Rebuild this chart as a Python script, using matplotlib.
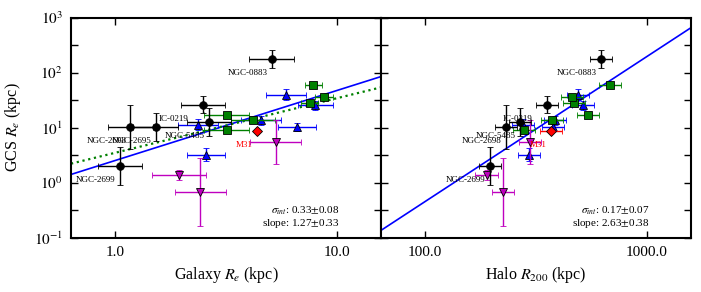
import numpy as np
import matplotlib
matplotlib.use("Agg")
import matplotlib.pyplot as plt
from matplotlib.ticker import NullLocator, FixedLocator, FixedFormatter

plt.rcParams['font.family'] = ['Liberation Serif', 'DejaVu Serif']
plt.rcParams['mathtext.fontset'] = 'stix'

# ---------------- data ----------------
bk_names = ["NGC-0883", "NGC-2698", "NGC-2695", "IC-0219", "NGC-5485", "NGC-2699"]
bk_re = [5.08, 1.17, 1.52, 2.49, 2.65, 1.05]
bk_gcs = [176.0, 10.3, 10.3, 26.2, 12.6, 2.0]
bk_gcs_err_dex = [0.17, 0.40, 0.25, 0.15, 0.25, 0.35]
bk_re_err_dex = [0.10, 0.10, 0.10, 0.10, 0.10, 0.10]
bk_r200 = [621.0, 231.0, np.nan, 354.0, 268.0, 196.0]

gr_re = [3.18, 3.18, 4.19, 7.85, 7.54, 8.74]
gr_gcs = [16.7, 8.9, 14.0, 58.8, 28.5, 36.0]
gr_re_err_dex = [0.10, 0.10, 0.10, 0.04, 0.04, 0.04]
gr_r200 = [545.0, 279.0, 373.0, 684.0, 470.0, 459.0]

bl_re = [2.37, 4.57, 5.92, 8.02, 6.63, 2.56]
bl_gcs = [11.3, 13.6, 39.8, 25.4, 10.3, 3.23]
bl_gcs_err_dex = [0.10, 0.08, 0.10, 0.08, 0.07, 0.12]
bl_re_err_dex = [0.09, 0.09, 0.09, 0.08, 0.085, 0.085]
bl_r200 = [276.0, 385.0, 489.0, 514.0, 378.0, 294.0]

mg_re = [5.3, 1.94, 2.42]
mg_gcs = [5.56, 1.40, 0.675]
mg_gcs_err_dex = [0.40, 0.09, 0.62]
mg_re_err_dex = [0.115, 0.12, 0.115]
mg_r200 = [297.0, 189.0, 224.0]

m31_re = [4.38]
m31_gcs = [8.67]
m31_r200 = [371.0]

r200_err_dex = 0.05

# fits: (log intercept at x=1 or x=100, slope)
fit_re = [0.403, 1.27]
fit_re_dotted = [0.543, 0.99]
fit_r200 = [-0.341, 2.63]

stats_re = ["0.33$\\pm$0.08", "1.27$\\pm$0.33"]
stats_r200 = ["0.17$\\pm$0.07", "2.63$\\pm$0.38"]


def dexerr(v, d):
    v = np.asarray(v, dtype=float)
    d = np.broadcast_to(np.asarray(d, dtype=float), v.shape)
    return np.vstack([v * (1 - 10 ** -d), v * (10 ** d - 1)])


fig = plt.figure(figsize=(7.01, 2.92), dpi=100)
axL = fig.add_axes([71 / 701, 1 - 237.7 / 292, 310 / 701, 220.2 / 292])
axR = fig.add_axes([381 / 701, 1 - 237.7 / 292, 310 / 701, 220.2 / 292])

ekw = dict(capsize=2.5, elinewidth=1.0, capthick=1.0, markeredgecolor='k',
           markeredgewidth=0.6, linestyle='none')


def draw(ax, xb, xg, xbl, xm, xr, xdex_b, xdex_g, xdex_bl, xdex_m, red_xerr):
    ax.errorbar(xbl, bl_gcs, xerr=dexerr(xbl, xdex_bl), yerr=dexerr(bl_gcs, bl_gcs_err_dex),
                fmt='^', color='b', ecolor='b', ms=5.5, zorder=3, **ekw)
    ax.errorbar(xg, gr_gcs, xerr=dexerr(xg, xdex_g),
                fmt='s', color='g', ecolor='g', ms=5.5, zorder=4, **ekw)
    ax.errorbar(xm, mg_gcs, xerr=dexerr(xm, xdex_m), yerr=dexerr(mg_gcs, mg_gcs_err_dex),
                fmt='v', color='m', ecolor='m', ms=5.5, zorder=5, **ekw)
    if red_xerr:
        ax.errorbar(xr, m31_gcs, xerr=dexerr(xr, r200_err_dex),
                    fmt='D', color='r', ecolor='r', ms=5.5, zorder=6, **ekw)
    else:
        ax.plot(xr, m31_gcs, 'D', color='r', ms=5.5, mec='k', mew=0.6, zorder=6)
    ax.errorbar(xb, bk_gcs, xerr=dexerr(xb, xdex_b), yerr=dexerr(bk_gcs, bk_gcs_err_dex),
                fmt='o', color='k', ecolor='k', ms=5.5, zorder=7, **ekw)
    for name, x, y in zip(bk_names, xb, bk_gcs):
        if np.isfinite(x):
            ax.annotate(name, (x, y), xytext=(-44, -14), textcoords='offset pixels',
                        ha='left', va='center', fontsize=6.5, zorder=8)
    ax.annotate("M31", (xr[0], m31_gcs[0]), xytext=(-22, -14), textcoords='offset pixels',
                ha='left', va='center', fontsize=6.5, color='r', zorder=8)


draw(axL, bk_re, gr_re, bl_re, mg_re, m31_re, bk_re_err_dex, gr_re_err_dex,
     bl_re_err_dex, mg_re_err_dex, False)
draw(axR, bk_r200, gr_r200, bl_r200, mg_r200, m31_r200, r200_err_dex, r200_err_dex,
     r200_err_dex, r200_err_dex, True)

# fit lines
xl = np.logspace(-0.2, 1.2, 50)
axL.plot(xl, 10 ** (fit_re[0] + fit_re[1] * np.log10(xl)), 'b-', lw=1.2, zorder=2)
axL.plot(xl, 10 ** (fit_re_dotted[0] + fit_re_dotted[1] * np.log10(xl)), 'g:', lw=1.6, zorder=2)
xr_line = np.logspace(1.8, 3.2, 50)
axR.plot(xr_line, 10 ** (fit_r200[0] + fit_r200[1] * (np.log10(xr_line) - 2)), 'b-', lw=1.2, zorder=2)

yt = 10 ** np.arange(-1, 3.01, 0.5)
ylab = ["$10^{%d}$" % round(np.log10(v)) if abs(np.log10(v) - round(np.log10(v))) < 1e-6 else ""
        for v in yt]

for ax, xlim, xt, xtl in [(axL, (10 ** -0.2, 10 ** 1.2), [1.0, 10.0], ["1.0", "10.0"]),
                          (axR, (10 ** 1.8, 10 ** 3.2), [100.0, 1000.0], ["100.0", "1000.0"])]:
    ax.set_xscale('log')
    ax.set_yscale('log')
    ax.set_xlim(*xlim)
    ax.set_ylim(0.1, 1000)
    ax.xaxis.set_major_locator(FixedLocator(xt))
    ax.xaxis.set_major_formatter(FixedFormatter(xtl))
    ax.xaxis.set_minor_locator(NullLocator())
    ax.yaxis.set_major_locator(FixedLocator(yt))
    ax.yaxis.set_minor_locator(NullLocator())
    ax.tick_params(which='major', direction='in', top=True, right=True, length=5,
                   width=1.0, labelsize=11, pad=6)
    for s in ax.spines.values():
        s.set_linewidth(1.5)

axL.yaxis.set_major_formatter(FixedFormatter(ylab))
axR.yaxis.set_major_formatter(FixedFormatter([""] * len(yt)))

axL.set_xlabel("Galaxy $R_e$ (kpc)", fontsize=11.5)
axR.set_xlabel("Halo $R_{200}$ (kpc)", fontsize=11.5)
axL.set_ylabel("GCS $R_e$ (kpc)", fontsize=11.5, labelpad=8)

for ax, st in [(axL, stats_re), (axR, stats_r200)]:
    ax.text(0.865, 0.121, "$\\sigma_{int}$: " + st[0], transform=ax.transAxes,
            ha='right', va='center', fontsize=8)
    ax.text(0.865, 0.065, "slope: " + st[1], transform=ax.transAxes,
            ha='right', va='center', fontsize=8)

fig.savefig("out.png", dpi=100)
